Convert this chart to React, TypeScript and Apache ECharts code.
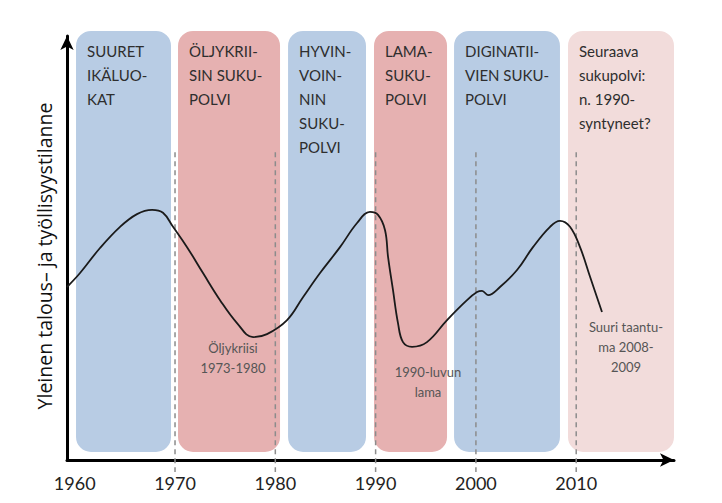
import React, { useEffect, useRef } from "react";
import * as echarts from "echarts";

const xTicks = [1960, 1970, 1980, 1990, 2000, 2010];
const yTitle = "Yleinen talous– ja työllisyystilanne";

// generation bands: [startYear, endYear, colourIndex]
const bandStarts = [1960.13, 1970.3, 1981.27, 1989.84, 1997.82, 2009.18];
const bandEnds = [1969.6, 1980.47, 1989.04, 1997.12, 2008.38, 2019.75];
const bandColorIdx = [0, 1, 0, 1, 0, 2];
const bandTitles = [
  "SUURET\nIKÄLUO-\nKAT",
  "ÖLJYKRII-\nSIN SUKU-\nPOLVI",
  "HYVIN-\nVOIN-\nNIN\nSUKU-\nPOLVI",
  "LAMA-\nSUKU-\nPOLVI",
  "DIGINATII-\nVIEN SUKU-\nPOLVI",
  "Seuraava\nsukupolvi:\nn. 1990-\nsyntyneet?",
];
const bandColors = ["#b8cce4", "#e6b1b1", "#f2dcdb"];

// economic situation curve
const curveYears = [
  1959.23, 1960.53, 1962.52, 1964.52, 1966.21, 1967.71, 1968.8, 1969.8, 1971.2,
  1972.79, 1974.49, 1976.18, 1977.78, 1979.17, 1981.17, 1982.76, 1984.46,
  1986.45, 1988.15, 1989.44, 1990.24, 1990.94, 1991.24, 1991.73, 1992.23,
  1992.73, 1993.63, 1995.12, 1997.12, 1999.11, 2000.11, 2000.61, 2001.21,
  2002.4, 2004.1, 2005.69, 2007.39, 2008.38, 2009.38, 2010.38, 2011.38,
  2012.57,
];
const curveValues = [
  40.8, 44.1, 50.0, 55.0, 58.0, 59.0, 58.3, 55.0, 50.2, 44.1, 37.7, 32.3, 29.0,
  29.7, 33.0, 38.4, 44.1, 50.2, 55.9, 58.5, 57.8, 54.2, 47.9, 40.1, 32.3, 27.8,
  26.7, 27.8, 33.0, 37.7, 39.6, 39.9, 38.9, 40.8, 44.8, 50.2, 55.0, 56.4, 55.0,
  50.2, 43.2, 34.9,
];

// dashed decade markers
const dashYears = [1970, 1980, 1990, 2000, 2010];

// crisis annotations: [year, value, text]
const noteYears = [1975.78, 1995.22, 2014.96];
const noteValues = [24.1, 18.4, 26.7];
const noteTexts = [
  "Öljykriisi\n1973-1980",
  "1990-luvun\nlama",
  "Suuri taantu-\nma 2008-\n2009",
];

const FONT = "Lato, 'Open Sans', sans-serif";

export default function App() {
  const ref = useRef<HTMLDivElement>(null);
  useEffect(() => {
    document.body.style.margin = "0";
    const chart = echarts.init(ref.current!, undefined, { renderer: "svg" });
    const bandData = bandStarts.map((s, i) => [s, bandEnds[i], bandColorIdx[i], i]);
    const option: any = {
      animation: false,
      grid: { left: 67, right: 48, top: 36, bottom: 43 },
      graphic: [
        {
          type: "text",
          x: 44,
          y: 256,
          rotation: Math.PI / 2,
          style: {
            text: yTitle,
            fill: "#111",
            font: "19.5px 'Open Sans', sans-serif",
            align: "center",
            verticalAlign: "middle",
          },
        },
      ],
      xAxis: {
        type: "value",
        min: 1959.23,
        max: 2019.75,
        axisLine: {
          show: true,
          lineStyle: { color: "#000", width: 3 },
          symbol: ["none", "arrow"],
          symbolSize: [10, 14],
        },
        axisTick: { show: false },
        splitLine: { show: false },
        axisLabel: {
          color: "#222",
          fontSize: 18,
          fontFamily: FONT,
          margin: 14,
          customValues: xTicks,
          formatter: (v: number) => String(v),
        },
      },
      yAxis: {
        type: "value",
        min: 0,
        max: 100,
        axisLine: {
          show: true,
          lineStyle: { color: "#000", width: 3 },
          symbol: ["none", "arrow"],
          symbolSize: [10, 14],
        },
        axisTick: { show: false },
        axisLabel: { show: false },
        splitLine: { show: false },
      },
      series: [
        {
          type: "custom",
          z: 1,
          clip: false,
          data: bandData,
          renderItem: (params: any, api: any) => {
            const s = api.value(0);
            const e = api.value(1);
            const ci = api.value(2);
            const idx = api.value(3);
            const p0 = api.coord([s, 101.2]);
            const p1 = api.coord([e, 1.9]);
            return {
              type: "group",
              children: [
                {
                  type: "rect",
                  shape: {
                    x: p0[0],
                    y: p0[1],
                    width: p1[0] - p0[0],
                    height: p1[1] - p0[1],
                    r: 15,
                  },
                  style: { fill: bandColors[ci] },
                },
                {
                  type: "text",
                  x: p0[0] + 11,
                  y: p0[1] + 8,
                  style: {
                    text: bandTitles[idx],
                    fill: "#2e2e2e",
                    font: `15px ${FONT}`,
                    lineHeight: 24,
                    verticalAlign: "top",
                  },
                },
              ],
            };
          },
        },
        {
          type: "custom",
          z: 2,
          clip: false,
          data: dashYears.map((y) => [y]),
          renderItem: (params: any, api: any) => {
            const t = api.coord([api.value(0), 72.6]);
            const b = api.coord([api.value(0), 0]);
            return {
              type: "line",
              shape: { x1: t[0], y1: t[1], x2: b[0], y2: b[1] + 12 },
              style: { stroke: "#8c8c8c", lineWidth: 1.5, lineDash: [5, 4] },
            };
          },
        },
        {
          type: "line",
          z: 3,
          smooth: 0.4,
          symbol: "none",
          data: curveYears.map((y, i) => [y, curveValues[i]]),
          lineStyle: { color: "#1a1a1a", width: 1.8 },
        },
        {
          type: "custom",
          z: 4,
          clip: false,
          data: noteYears.map((y, i) => [y, noteValues[i], i]),
          renderItem: (params: any, api: any) => {
            const p = api.coord([api.value(0), api.value(1)]);
            return {
              type: "text",
              x: p[0],
              y: p[1],
              style: {
                text: noteTexts[api.value(2)],
                fill: "#555",
                font: `13px ${FONT}`,
                lineHeight: 20,
                align: "center",
                verticalAlign: "middle",
              },
            };
          },
        },
      ],
    };
    chart.setOption(option);
    return () => chart.dispose();
  }, []);
  return <div ref={ref} style={{ width: 722, height: 503 }} />;
}
